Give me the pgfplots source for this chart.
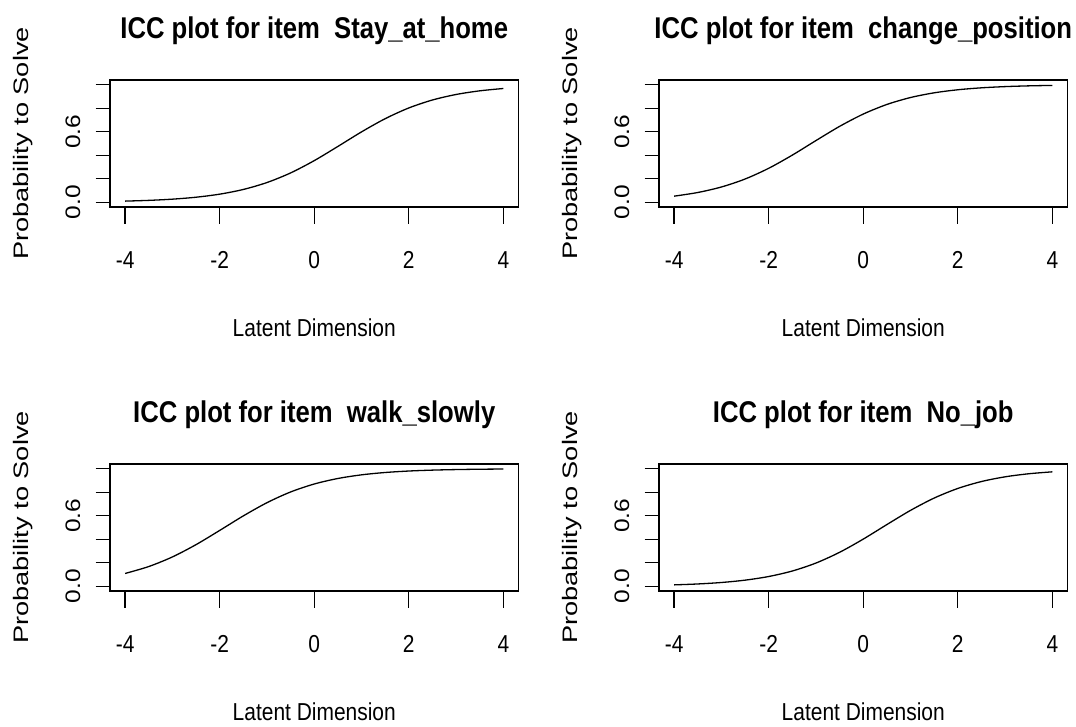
\documentclass[border=0pt]{standalone}
\usepackage{fontspec}
\setmainfont{Liberation Sans}
\usepackage{pgfplots}
\pgfplotsset{compat=1.18}

\newcommand\labfont{\fontsize{24.5}{29}\selectfont}
\newcommand\titfont{\fontsize{30}{36}\selectfont\bfseries}

\pgfplotsset{
  icc/.style={
    scale only axis, width=408.5pt, height=127pt,
    xmin=-4.32, xmax=4.32, ymin=-0.04, ymax=1.04,
    axis line style={line width=1.8pt},
    xtick={-4,-2,0,2,4}, xticklabels={-4,-2,0,2,4},
    ytick={0,0.2,0.4,0.6,0.8,1}, yticklabels={0.0,,,0.6,,},
    xtick pos=left, ytick pos=left, tick align=outside,
    major tick length=16pt,
    tick style={line width=1.3pt, black},
    xtick style={/pgfplots/major tick length=17pt},
    ytick style={/pgfplots/major tick length=14.5pt},
    xticklabel style={font=\labfont, anchor=base, yshift=-46pt, xscale=0.855},
    yticklabel style={font=\labfont, anchor=base, xshift=-14pt, rotate=90, yscale=0.855},
    every axis title/.style={at={(axis description cs:0.5,1)}, anchor=base, yshift=41pt, xscale=0.855, font=\titfont},
    every axis x label/.style={at={(axis description cs:0.5,0)}, anchor=base, yshift=-130pt, xscale=0.855, font=\labfont},
    every axis y label/.style={at={(axis description cs:0,0.5)}, anchor=base, xshift=-82pt, rotate=90, xscale=1.11, yscale=0.855, font=\labfont},
    xlabel={Latent Dimension}, ylabel={Probability to Solve},
  },
  icc curve/.style={black, line width=1.3pt, smooth, no marks},
}

\begin{document}
\begin{tikzpicture}
\path[use as bounding box] (0,0) rectangle (1076pt,727pt);

% item characteristic curves, one panel per item
\begin{axis}[icc, at={(110pt,520pt)}, anchor=south west,
  title={ICC plot for item\ \ Stay\_at\_home}]
\addplot[icc curve] coordinates {
(-4,0.0100) (-3.5,0.0163) (-3,0.0266) (-2.5,0.0431) (-2,0.0691) (-1.5,0.1091)
(-1,0.1680) (-0.5,0.2497) (0,0.3543) (0.5,0.4750) (1,0.5987) (1.5,0.7109)
(2,0.8022) (2.5,0.8699) (3,0.9168) (3.5,0.9478) (4,0.9677)};
\end{axis}

\begin{axis}[icc, at={(659pt,520pt)}, anchor=south west,
  title={ICC plot for item\ \ change\_position}]
\addplot[icc curve] coordinates {
(-4,0.0522) (-3.5,0.0832) (-3,0.1301) (-2.5,0.1978) (-2,0.2891) (-1.5,0.4013)
(-1,0.5250) (-0.5,0.6457) (0,0.7503) (0.5,0.8320) (1,0.8909) (1.5,0.9309)
(2,0.9569) (2.5,0.9734) (3,0.9837) (3.5,0.9901) (4,0.9939)};
\end{axis}

\begin{axis}[icc, at={(110pt,136pt)}, anchor=south west,
  title={ICC plot for item\ \ walk\_slowly}]
\addplot[icc curve] coordinates {
(-4,0.1091) (-3.5,0.1680) (-3,0.2497) (-2.5,0.3543) (-2,0.4750) (-1.5,0.5987)
(-1,0.7109) (-0.5,0.8022) (0,0.8699) (0.5,0.9168) (1,0.9478) (1.5,0.9677)
(2,0.9802) (2.5,0.9879) (3,0.9926) (3.5,0.9955) (4,0.9973)};
\end{axis}

\begin{axis}[icc, at={(659pt,136pt)}, anchor=south west,
  title={ICC plot for item\ \ No\_job}]
\addplot[icc curve] coordinates {
(-4,0.0121) (-3.5,0.0198) (-3,0.0323) (-2.5,0.0522) (-2,0.0832) (-1.5,0.1301)
(-1,0.1978) (-0.5,0.2891) (0,0.4013) (0.5,0.5250) (1,0.6457) (1.5,0.7503)
(2,0.8320) (2.5,0.8909) (3,0.9309) (3.5,0.9569) (4,0.9734)};
\end{axis}
\end{tikzpicture}
\end{document}
